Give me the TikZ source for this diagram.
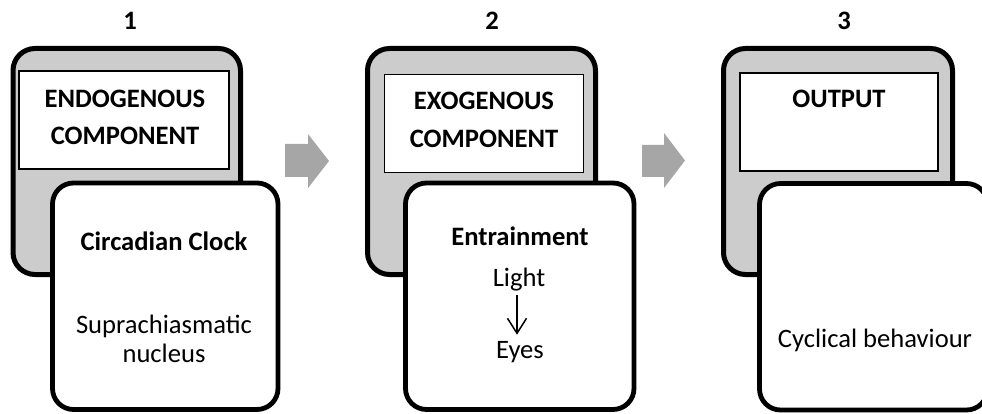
\documentclass[tikz,border=0pt]{standalone}
\usepackage{fontspec}
\setmainfont{Carlito}[Numbers=Lining]
\usetikzlibrary{arrows.meta}
\definecolor{boxgray}{HTML}{CCCCCC}
\definecolor{arrgray}{HTML}{A6A6A6}
\tikzset{
  backbox/.style={draw=black, line width=5pt, fill=boxgray, rounded corners=22pt, inner sep=0pt},
  frontbox/.style={draw=black, line width=4.8pt, fill=white, rounded corners=21pt, inner sep=0pt},
  titlebox/.style={draw=black, line width=1.6pt, fill=white, inner sep=0pt},
  txt/.style={inner sep=0pt, anchor=base, font=\fontsize{26.6}{31}\selectfont},
  btxt/.style={inner sep=0pt, anchor=base, font=\fontsize{26.6}{31}\selectfont\bfseries},
  numtxt/.style={inner sep=0pt, anchor=base, font=\fontsize{26.6}{31}\selectfont\bfseries},
  blockarrow/.style={fill=arrgray, draw=none},
  thinarrow/.style={line width=1.5pt, -{Straight Barb[length=15pt,width=19pt,line width=1.5pt]}}
}
\begin{document}
\begin{tikzpicture}[x=1pt,y=-1pt]
\useasboundingbox (0,0) rectangle (982,414);
\clip (0,0) rectangle (982,414);
% numbers
\node[numtxt] (n1) at (130,30) {1};
\node[numtxt] (n2) at (492,30) {2};
\node[numtxt] (n3) at (844,30) {3};
% panel 1
\node[backbox, minimum width=227.5pt, minimum height=226pt] (g1) at (126.75,161.5) {};
\node[titlebox, minimum width=210pt, minimum height=98pt] (t1) at (124,120) {};
\node[frontbox, minimum width=225.5pt, minimum height=226.5pt] (f1) at (165.25,296.25) {};
\node[btxt] (t1a) at (125,108) {ENDOGENOUS};
\node[btxt] (t1b) at (125,145) {COMPONENT};
\node[btxt] (f1a) at (164,250) {Circadian Clock};
\node[txt] (f1b) at (164,333) {Suprachiasmatic};
\node[txt] (f1c) at (164,362) {nucleus};
% panel 2
\node[backbox, minimum width=228pt, minimum height=226pt] (g2) at (481.5,161.5) {};
\node[titlebox, minimum width=199pt, minimum height=98pt] (t2) at (484,123.5) {};
\node[frontbox, minimum width=228.5pt, minimum height=226.5pt] (f2) at (519.75,296.25) {};
\node[btxt] (t2a) at (484,110) {EXOGENOUS};
\node[btxt] (t2b) at (484,148) {COMPONENT};
\node[btxt] (f2a) at (520,245) {Entrainment};
\node[txt] (light) at (519,286) {Light};
\node[txt] (eyes) at (520,358) {Eyes};
\draw[thinarrow, shorten <=4pt, shorten >=6pt] ([xshift=-2pt]light.south) -- ([xshift=-3pt]eyes.north);
% panel 3
\node[backbox, minimum width=229pt, minimum height=226pt] (g3) at (838,161.5) {};
\node[titlebox, minimum width=198pt, minimum height=98pt] (t3) at (839,122) {};
\node[frontbox, minimum width=228pt, minimum height=226.5pt] (f3) at (873.5,296.75) {};
\node[btxt] (t3a) at (839,108) {OUTPUT};
\node[txt] (f3a) at (875,347) {Cyclical behaviour};
% block arrows
\fill[blockarrow] (285,144) -- (308,144) -- (308,134) -- (329,161) -- (308,188) -- (308,177) -- (285,177) -- cycle;
\fill[blockarrow] (642,145) -- (664,145) -- (664,133) -- (685,160.5) -- (664,188) -- (664,177) -- (642,177) -- cycle;
\end{tikzpicture}
\end{document}
